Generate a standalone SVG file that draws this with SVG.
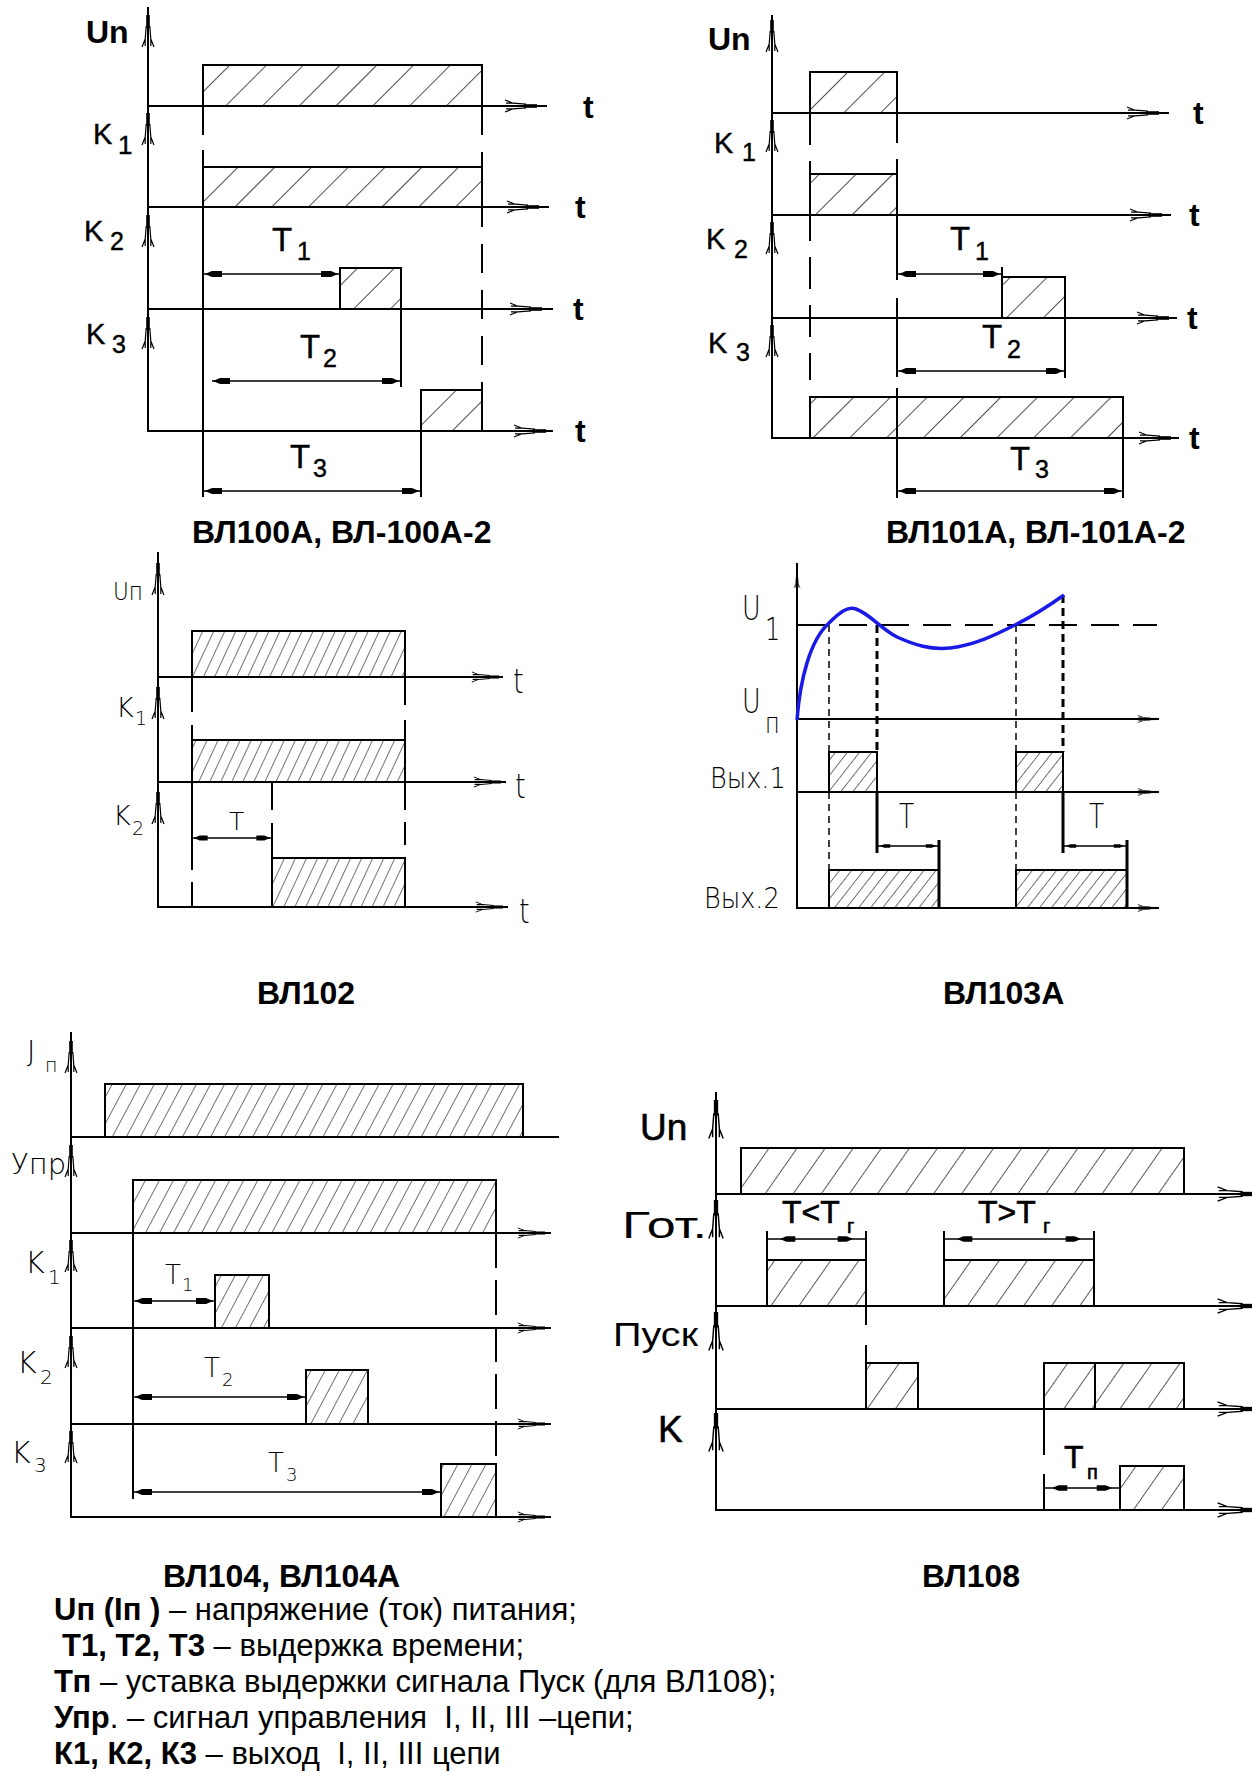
<svg xmlns="http://www.w3.org/2000/svg" width="1252" height="1773" viewBox="0 0 1252 1773">
<style>
.ln{stroke:#000;stroke-width:2;fill:none}
.bx{stroke:#000;stroke-width:2}
.dl{stroke:#000;stroke-width:1.5;fill:none}
.tk{stroke:#000;stroke-width:3;fill:none}
.g{font-family:"Liberation Sans",Arial,sans-serif;fill:#000;stroke:#000;stroke-width:0.4}
.gn{font-family:"Liberation Sans",Arial,sans-serif;fill:#000}
.gb{font-family:"Liberation Sans",Arial,sans-serif;fill:#000;stroke:#000;stroke-width:0.6}
.th{font-family:"DejaVu Sans",sans-serif;font-weight:200;fill:#000}
.ttl{font-family:"Liberation Sans",Arial,sans-serif;font-weight:bold;font-size:32px;fill:#000}
.leg{font-family:"Liberation Sans",Arial,sans-serif;font-size:31px;fill:#000}
</style>
<defs>
<pattern id="h100" patternUnits="userSpaceOnUse" width="26" height="26" patternTransform="rotate(45)"><rect width="26" height="26" fill="#fff"/><line x1="0" y1="0" x2="0" y2="26" stroke="#000" stroke-width="1.4"/></pattern>
<pattern id="h102" patternUnits="userSpaceOnUse" width="10" height="10" patternTransform="rotate(25)"><rect width="10" height="10" fill="#fff"/><line x1="0" y1="0" x2="0" y2="10" stroke="#000" stroke-width="1.1"/></pattern>
<pattern id="h103" patternUnits="userSpaceOnUse" width="9.5" height="10" patternTransform="rotate(38)"><rect width="9.5" height="10" fill="#fff"/><line x1="0" y1="0" x2="0" y2="10" stroke="#000" stroke-width="1.1"/></pattern>
<pattern id="h104" patternUnits="userSpaceOnUse" width="12.4" height="10" patternTransform="rotate(28)"><rect width="12.4" height="10" fill="#fff"/><line x1="0" y1="0" x2="0" y2="10" stroke="#000" stroke-width="1.1"/></pattern>
<pattern id="h108" patternUnits="userSpaceOnUse" width="23" height="23" patternTransform="rotate(35)"><rect width="23" height="23" fill="#fff"/><line x1="0" y1="0" x2="0" y2="23" stroke="#000" stroke-width="1.3"/></pattern>
<g id="va">
<rect x="-1.8" y="0" width="3.6" height="13" fill="#000"/>
<path d="M-1.8,11 L-2.8,24 L-6,32 M1.8,11 L2.8,24 L6,32 M-2.8,24 V31 M2.8,24 V31" fill="none" stroke="#000" stroke-width="1.2"/>
</g>
<path id="da" d="M0,0 L7,-3 L17,-3 L17,3 L7,3 Z" fill="#000"/>
</defs>
<rect width="1252" height="1773" fill="#fff"/>

<!-- ВЛ100А -->
<g id="vl100">
<rect class="bx" x="203" y="65" width="279" height="41" fill="url(#h100)"/>
<rect class="bx" x="203" y="167" width="279" height="40" fill="url(#h100)"/>
<rect class="bx" x="340" y="268" width="61" height="41" fill="url(#h100)"/>
<rect class="bx" x="421" y="390" width="61" height="41" fill="url(#h100)"/>
<path class="ln" d="M148,7 V431 H553 M148,106 H547 M148,207 H549 M148,309 H553"/>
<path class="ln" d="M203,106 V135 M203,150 V497 M401,309 V387 M421,431 V497"/>
<line class="ln" x1="482" y1="106" x2="482" y2="390" stroke-dasharray="29,17"/>
<path class="dl" d="M203,274 H340 M212,381 H401 M203,491 H421"/>
<use href="#da" transform="translate(205,274)"/><use href="#da" transform="translate(338,274) rotate(180)"/>
<use href="#da" transform="translate(213,381)"/><use href="#da" transform="translate(399,381) rotate(180)"/>
<use href="#da" transform="translate(205,491)"/><use href="#da" transform="translate(419,491) rotate(180)"/>
<use href="#va" transform="translate(148,15)"/><use href="#va" transform="translate(148,113)"/>
<use href="#va" transform="translate(148,215)"/><use href="#va" transform="translate(148,317)"/>
<use href="#va" transform="translate(537,106) rotate(90)"/><use href="#va" transform="translate(539,207) rotate(90)"/>
<use href="#va" transform="translate(542,309) rotate(90)"/><use href="#va" transform="translate(546,431) rotate(90)"/>
<text class="ttl" x="86" y="43" font-size="29">Un</text>
<text class="g" x="93" y="144" font-size="29">K</text><text class="g" x="118" y="154" font-size="26">1</text>
<text class="g" x="84" y="241" font-size="29">K</text><text class="g" x="110" y="250" font-size="25">2</text>
<text class="g" x="86" y="344" font-size="29">K</text><text class="g" x="112" y="353" font-size="25">3</text>
<text class="g" x="272" y="251" font-size="33">T</text><text class="g" x="297" y="260" font-size="25">1</text>
<text class="g" x="300" y="358" font-size="33">T</text><text class="g" x="323" y="367" font-size="25">2</text>
<text class="g" x="290" y="468" font-size="33">T</text><text class="g" x="313" y="477" font-size="25">3</text>
<text class="ttl" x="583" y="118" font-size="31">t</text>
<text class="ttl" x="575" y="218" font-size="31">t</text>
<text class="ttl" x="573" y="320" font-size="31">t</text>
<text class="ttl" x="575" y="442" font-size="31">t</text>
<text class="ttl" x="192" y="543">ВЛ100А, ВЛ-100А-2</text>
</g>

<!-- ВЛ101А -->
<g id="vl101">
<rect class="bx" x="810" y="72" width="87" height="41" fill="url(#h100)"/>
<rect class="bx" x="810" y="174" width="87" height="41" fill="url(#h100)"/>
<rect class="bx" x="1002" y="277" width="63" height="41" fill="url(#h100)"/>
<rect class="bx" x="810" y="397" width="313" height="41" fill="url(#h100)"/>
<path class="ln" d="M772,15 V438 H1179 M772,113 H1169 M772,215 H1171 M772,318 H1177"/>
<path class="ln" d="M897,113 V143 M897,159 V280 M897,298 V377 M897,388 V498 M1002,267 V277 M1065,318 V378 M1123,438 V498"/>
<line class="ln" x1="810" y1="113" x2="810" y2="380" stroke-dasharray="32,16"/>
<path class="dl" d="M897,274 H1002 M897,371 H1065 M897,491 H1123"/>
<use href="#da" transform="translate(899,274)"/><use href="#da" transform="translate(1000,274) rotate(180)"/>
<use href="#da" transform="translate(899,371)"/><use href="#da" transform="translate(1063,371) rotate(180)"/>
<use href="#da" transform="translate(899,491)"/><use href="#da" transform="translate(1121,491) rotate(180)"/>
<use href="#va" transform="translate(772,20)"/><use href="#va" transform="translate(772,120)"/>
<use href="#va" transform="translate(772,222)"/><use href="#va" transform="translate(772,325)"/>
<use href="#va" transform="translate(1159,113) rotate(90)"/><use href="#va" transform="translate(1162,215) rotate(90)"/>
<use href="#va" transform="translate(1169,318) rotate(90)"/><use href="#va" transform="translate(1171,438) rotate(90)"/>
<text class="ttl" x="708" y="50" font-size="29">Un</text>
<text class="g" x="714" y="153" font-size="29">K</text><text class="g" x="742" y="161" font-size="25">1</text>
<text class="g" x="706" y="249" font-size="29">K</text><text class="g" x="734" y="258" font-size="25">2</text>
<text class="g" x="708" y="353" font-size="29">K</text><text class="g" x="736" y="361" font-size="25">3</text>
<text class="g" x="950" y="250" font-size="33">T</text><text class="g" x="975" y="260" font-size="25">1</text>
<text class="g" x="982" y="348" font-size="33">T</text><text class="g" x="1007" y="358" font-size="25">2</text>
<text class="g" x="1010" y="470" font-size="33">T</text><text class="g" x="1035" y="478" font-size="25">3</text>
<text class="ttl" x="1193" y="124" font-size="31">t</text>
<text class="ttl" x="1189" y="226" font-size="31">t</text>
<text class="ttl" x="1187" y="329" font-size="31">t</text>
<text class="ttl" x="1189" y="449" font-size="31">t</text>
<text class="ttl" x="886" y="543">ВЛ101А, ВЛ-101А-2</text>
</g>

<!-- ВЛ102 -->
<g id="vl102">
<rect class="bx" x="192" y="631" width="213" height="46" fill="url(#h102)"/>
<rect class="bx" x="192" y="740" width="213" height="42" fill="url(#h102)"/>
<rect class="bx" x="272" y="858" width="133" height="49" fill="url(#h102)"/>
<path class="ln" d="M158,552 V907 H508 M158,677 H503 M158,782 H506"/>
<path class="ln" d="M192,677 V712 M192,725 V870 M192,882 V907 M272,782 V810 M272,823 V858 M405,677 V705 M405,720 V740 M405,782 V810 M405,822 V845"/>
<path class="dl" d="M192,838 H272"/>
<use href="#da" transform="translate(194,838) scale(0.8)"/><use href="#da" transform="translate(270,838) rotate(180) scale(0.8)"/>
<use href="#va" transform="translate(158,563)"/><use href="#va" transform="translate(158,687)"/><use href="#va" transform="translate(158,792)"/>
<use href="#va" transform="translate(499,677) rotate(90) scale(0.85)"/><use href="#va" transform="translate(501,782) rotate(90) scale(0.85)"/><use href="#va" transform="translate(503,907) rotate(90) scale(0.85)"/>
<text class="th" transform="translate(113,600) scale(0.9,1)" font-size="24">Uп</text>
<text class="th" x="116" y="717" font-size="27">K</text><text class="th" x="135" y="725" font-size="19">1</text>
<text class="th" x="113" y="825" font-size="27">K</text><text class="th" x="132" y="835" font-size="19">2</text>
<text class="th" x="229" y="830" font-size="25">T</text>
<text class="th" transform="translate(513,693) scale(0.8,1)" font-size="34">t</text>
<text class="th" transform="translate(515,798) scale(0.8,1)" font-size="34">t</text>
<text class="th" transform="translate(519,923) scale(0.8,1)" font-size="34">t</text>
<text class="ttl" x="257" y="1004">ВЛ102</text>
</g>

<!-- ВЛ103А -->
<g id="vl103">
<rect class="bx" x="829" y="752" width="48" height="40" fill="url(#h103)"/>
<rect class="bx" x="1016" y="752" width="47" height="40" fill="url(#h103)"/>
<rect class="bx" x="829" y="870" width="110" height="38" fill="url(#h103)"/>
<rect class="bx" x="1016" y="870" width="111" height="38" fill="url(#h103)"/>
<path class="ln" d="M797,563 V908 H1159 M797,719 H1159 M797,792 H1159"/>
<line class="ln" x1="797" y1="625" x2="1157" y2="625" stroke-dasharray="28,14"/>
<path class="tk" d="M877,792 V853 M1063,792 V853 M939,840 V908 M1127,840 V908"/>
<path class="dl" d="M877,846 H939 M1063,846 H1127"/>
<use href="#da" transform="translate(880,846) scale(0.6)"/><use href="#da" transform="translate(936,846) rotate(180) scale(0.6)"/>
<use href="#da" transform="translate(1066,846) scale(0.6)"/><use href="#da" transform="translate(1124,846) rotate(180) scale(0.6)"/>
<path class="dl" d="M829,625 V752 M829,792 V870 M1016,625 V752 M1016,792 V870" stroke-dasharray="7,5"/>
<path class="tk" d="M877,625 V752 M1063,595 V752" stroke-dasharray="8,5"/>
<use href="#va" transform="translate(797,572) scale(0.5)"/>
<use href="#va" transform="translate(1157,719) rotate(90) scale(0.6)"/><use href="#va" transform="translate(1157,792) rotate(90) scale(0.6)"/><use href="#va" transform="translate(1157,908) rotate(90) scale(0.6)"/>
<path d="M797,720 C800,680 810,640 829,623 C840,612 848,606 856,609 C870,614 880,628 897,637 C915,645 930,650 950,648 C975,645 995,635 1015,625 C1035,615 1050,605 1064,595" fill="none" stroke="#1a1ae6" stroke-width="3.5"/>
<text class="th" transform="translate(742,620) scale(0.75,1)" font-size="34">U</text><text class="th" transform="translate(765,640) scale(0.75,1)" font-size="32">1</text>
<text class="th" transform="translate(742,713) scale(0.75,1)" font-size="34">U</text><text class="th" transform="translate(765,733) scale(0.8,1)" font-size="28">п</text>
<text class="th" transform="translate(710,788) scale(0.88,1)" font-size="29">Вых.1</text>
<text class="th" transform="translate(704,908) scale(0.88,1)" font-size="29">Вых.2</text>
<text class="th" transform="translate(899,828) scale(0.75,1)" font-size="33">T</text>
<text class="th" transform="translate(1089,828) scale(0.75,1)" font-size="33">T</text>
<text class="ttl" x="943" y="1004">ВЛ103А</text>
</g>

<!-- ВЛ104 -->
<g id="vl104">
<rect class="bx" x="105" y="1084" width="418" height="53" fill="url(#h104)"/>
<rect class="bx" x="133" y="1180" width="363" height="53" fill="url(#h104)"/>
<rect class="bx" x="215" y="1275" width="54" height="53" fill="url(#h104)"/>
<rect class="bx" x="306" y="1370" width="62" height="54" fill="url(#h104)"/>
<rect class="bx" x="441" y="1464" width="55" height="53" fill="url(#h104)"/>
<path class="ln" d="M71,1032 V1517 H551 M71,1137 H559 M71,1233 H551 M71,1328 H551 M71,1424 H551 M133,1233 V1499"/>
<line class="ln" x1="496" y1="1233" x2="496" y2="1464" stroke-dasharray="35,12"/>
<path class="dl" d="M133,1301 H215 M133,1397 H306 M133,1492 H441"/>
<use href="#da" transform="translate(135,1301)"/><use href="#da" transform="translate(213,1301) rotate(180)"/>
<use href="#da" transform="translate(135,1397)"/><use href="#da" transform="translate(304,1397) rotate(180)"/>
<use href="#da" transform="translate(135,1492)"/><use href="#da" transform="translate(439,1492) rotate(180)"/>
<use href="#va" transform="translate(71,1041)"/><use href="#va" transform="translate(71,1145)"/><use href="#va" transform="translate(71,1240)"/><use href="#va" transform="translate(71,1336)"/><use href="#va" transform="translate(71,1431)"/>
<use href="#va" transform="translate(545,1233) rotate(90) scale(0.85)"/><use href="#va" transform="translate(545,1328) rotate(90) scale(0.85)"/><use href="#va" transform="translate(545,1424) rotate(90) scale(0.85)"/><use href="#va" transform="translate(545,1517) rotate(90) scale(0.85)"/>
<text class="th" x="27" y="1061" font-size="28">J</text><text class="th" x="45" y="1072" font-size="19">п</text>
<text class="th" x="11" y="1174" font-size="29">Упр</text>
<text class="th" x="25" y="1273" font-size="30">K</text><text class="th" x="48" y="1284" font-size="20">1</text>
<text class="th" x="17" y="1373" font-size="30">K</text><text class="th" x="40" y="1384" font-size="20">2</text>
<text class="th" x="11" y="1463" font-size="30">K</text><text class="th" x="34" y="1472" font-size="20">3</text>
<text class="th" x="165" y="1284" font-size="26">T</text><text class="th" x="182" y="1291" font-size="18">1</text>
<text class="th" x="204" y="1377" font-size="26">T</text><text class="th" x="222" y="1386" font-size="18">2</text>
<text class="th" x="268" y="1472" font-size="26">T</text><text class="th" x="286" y="1481" font-size="18">3</text>
<text class="ttl" x="163" y="1587">ВЛ104, ВЛ104А</text>
</g>

<!-- ВЛ108 -->
<g id="vl108">
<rect class="bx" x="741" y="1148" width="443" height="46" fill="url(#h108)"/>
<rect class="bx" x="767" y="1260" width="99" height="46" fill="url(#h108)"/>
<rect class="bx" x="944" y="1260" width="150" height="46" fill="url(#h108)"/>
<rect class="bx" x="866" y="1363" width="52" height="46" fill="url(#h108)"/>
<rect class="bx" x="1044" y="1363" width="140" height="46" fill="url(#h108)"/>
<rect class="bx" x="1120" y="1466" width="64" height="44" fill="url(#h108)"/>
<path class="ln" d="M716,1092 V1510 H1252 M716,1194 H1252 M716,1306 H1252 M716,1409 H1252"/>
<path class="ln" d="M767,1231 V1260 M866,1231 V1260 M944,1231 V1260 M1094,1231 V1260 M866,1306 V1325 M866,1345 V1363 M1044,1409 V1455 M1044,1474 V1510 M1095,1363 V1409"/>
<path class="dl" d="M767,1239 H866 M944,1239 H1094 M1044,1488 H1120"/>
<use href="#da" transform="translate(780,1239) scale(0.9)"/><use href="#da" transform="translate(853,1239) rotate(180) scale(0.9)"/>
<use href="#da" transform="translate(957,1239) scale(0.9)"/><use href="#da" transform="translate(1081,1239) rotate(180) scale(0.9)"/>
<use href="#da" transform="translate(1052,1488) scale(0.9)"/><use href="#da" transform="translate(1112,1488) rotate(180) scale(0.9)"/>
<use href="#va" transform="translate(716,1100) scale(1.2)"/><use href="#va" transform="translate(716,1200) scale(1.2)"/><use href="#va" transform="translate(716,1312) scale(1.2)"/><use href="#va" transform="translate(716,1413) scale(1.2)"/>
<use href="#va" transform="translate(1256,1194) rotate(90) scale(1.2)"/><use href="#va" transform="translate(1256,1306) rotate(90) scale(1.2)"/><use href="#va" transform="translate(1256,1409) rotate(90) scale(1.2)"/><use href="#va" transform="translate(1256,1510) rotate(90) scale(1.2)"/>
<text class="gb" x="640" y="1140" font-size="37">Un</text>
<text class="gn" x="622" y="1238" font-size="37" textLength="85" lengthAdjust="spacingAndGlyphs">Гот.</text>
<text class="gn" x="613" y="1346" font-size="34" textLength="85" lengthAdjust="spacingAndGlyphs">Пуск</text>
<text class="gb" x="658" y="1442" font-size="37">K</text>
<text class="gb" x="782" y="1223" font-size="32">T&lt;T</text><text class="gb" x="847" y="1233" font-size="20">г</text>
<text class="gb" x="978" y="1223" font-size="32">T&gt;T</text><text class="gb" x="1043" y="1233" font-size="20">г</text>
<text class="gb" x="1064" y="1468" font-size="32">T</text><text class="gb" x="1087" y="1479" font-size="20">п</text>
<text class="ttl" x="922" y="1587">ВЛ108</text>
</g>

<!-- legend -->
<g id="legend">
<text class="leg" x="54" y="1620"><tspan font-weight="bold">Uп (Iп )</tspan> – напряжение (ток) питания;</text>
<text class="leg" x="62" y="1656"><tspan font-weight="bold">T1, T2, T3</tspan> – выдержка времени;</text>
<text class="leg" x="54" y="1692"><tspan font-weight="bold">Тп</tspan> – уставка выдержки сигнала Пуск (для ВЛ108);</text>
<text class="leg" x="54" y="1728" xml:space="preserve"><tspan font-weight="bold">Упр</tspan>. – сигнал управления  I, II, III –цепи;</text>
<text class="leg" x="54" y="1764" xml:space="preserve"><tspan font-weight="bold">К1, К2, К3</tspan> – выход  I, II, III цепи</text>
</g>
</svg>
